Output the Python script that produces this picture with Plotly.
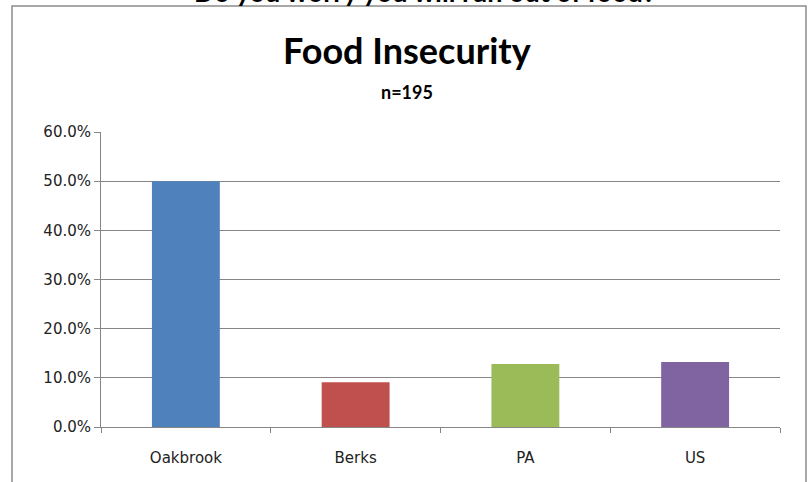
import plotly.graph_objects as go

categories = ["Oakbrook", "Berks", "PA", "US"]
values = [0.50, 0.091, 0.128, 0.132]
colors = ["#4F81BD", "#C0504D", "#9BBB59", "#8064A2"]
tick_vals = [0, 0.1, 0.2, 0.3, 0.4, 0.5, 0.6]
tick_text = ["0.0%", "10.0%", "20.0%", "30.0%", "40.0%", "50.0%", "60.0%"]

W, H = 809, 482
L, R, T, B = 101, 29, 132, 55
pw, ph = W - L - R, H - T - B

def px(x):
    return (x - L) / pw

def py(y):
    return (H - B - y) / ph

fig = go.Figure(go.Bar(x=categories, y=values, marker=dict(color=colors, line=dict(width=0)),
                       width=0.4, showlegend=False, hoverinfo="skip"))

fig.update_layout(
    width=W, height=H,
    margin=dict(l=L, r=R, t=T, b=B),
    paper_bgcolor="white", plot_bgcolor="white",
    font=dict(family="Lato", color="#222222"),
    xaxis=dict(showline=True, linecolor="#868686", linewidth=1, ticks="outside",
               tickson="boundaries", ticklen=5, tickcolor="#868686", ticklabelstandoff=17,
               tickfont=dict(family="DejaVu Sans", size=15, color="#222222"), showgrid=False),
    yaxis=dict(range=[0, 0.6], tickvals=tick_vals, ticktext=tick_text,
               showline=True, linecolor="#868686", linewidth=1, ticks="outside",
               ticklen=6, tickcolor="#868686", gridcolor="#868686", gridwidth=1,
               tickfont=dict(family="DejaVu Sans", size=15, color="#222222"), zeroline=False),
    shapes=[dict(type="rect", xref="paper", yref="paper",
                 x0=px(12), x1=px(806), y0=py(500), y1=py(6),
                 line=dict(color="#8c8c8c", width=1.5), fillcolor="rgba(0,0,0,0)", layer="below")],
    annotations=[
        dict(text="<b>Food Insecurity</b>", xref="paper", yref="paper", x=px(407), y=py(50),
             showarrow=False, font=dict(size=36, color="#000000"), xanchor="center", yanchor="middle"),
        dict(text="<b>n=195</b>", xref="paper", yref="paper", x=px(407), y=py(92),
             showarrow=False, font=dict(size=18, color="#000000"), xanchor="center", yanchor="middle"),
        dict(text="<b>Do you worry you will run out of food?</b>", xref="paper", yref="paper",
             x=px(424), y=py(-9), showarrow=False, font=dict(size=27, color="#000000"),
             xanchor="center", yanchor="middle"),
    ],
)

fig.write_html("out.html", config={"displayModeBar": False},
               post_script="document.body.style.margin='0';document.body.style.overflow='hidden';")
